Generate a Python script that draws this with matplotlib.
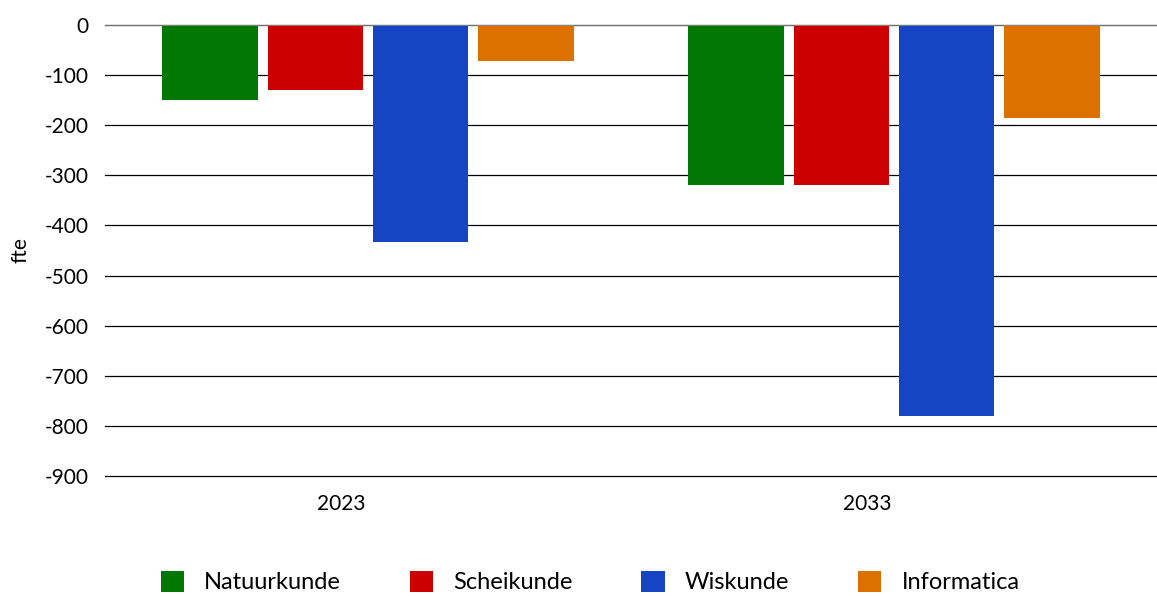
import numpy as np
import matplotlib.pyplot as plt
from matplotlib.patches import Patch

plt.rcParams['font.family'] = ['Lato', 'DejaVu Sans']
plt.rcParams['axes.unicode_minus'] = False

years = ['2023', '2033']
series = ['Natuurkunde', 'Scheikunde', 'Wiskunde', 'Informatica']
natuurkunde = [-150, -320]
scheikunde = [-130, -320]
wiskunde = [-433, -780]
informatica = [-72, -186]
colors = ['#037703', '#CC0000', '#1545C3', '#DD7100']

values = [natuurkunde, scheikunde, wiskunde, informatica]

fig = plt.figure(figsize=(11.57, 5.96), dpi=100)
ax = fig.add_axes([105 / 1157, 1 - 476 / 596, 1 - 105 / 1157, 451 / 596])

x = np.arange(len(years))
width = 0.182
step = 0.2
for i, (vals, col) in enumerate(zip(values, colors)):
    ax.bar(x + (i - 1.5) * step, vals, width, color=col, zorder=3, label=series[i])

ax.set_xlim(-0.5, 1.5)
ax.set_ylim(-900, 0)
ax.set_yticks(np.arange(-900, 1, 100))
ax.yaxis.grid(True, color='black', linewidth=0.9, zorder=0)
for gl in ax.get_ygridlines():
    gl.set_clip_on(False)
ax.axhline(0, color='#888888', linewidth=1.2, zorder=4)
# category labels sit a little left of the group centre in the original
ax.set_xticks(x - 0.05)
ax.set_xticklabels(years)
ax.tick_params(axis='both', length=0, labelsize=15)
ax.tick_params(axis='x', pad=13)
ax.tick_params(axis='y', pad=12)
for s in ax.spines.values():
    s.set_visible(False)
ax.set_ylabel('fte', fontsize=15, labelpad=10)

handles = [Patch(facecolor=c, label=s) for s, c in zip(series, colors)]
fig.legend(handles=handles, loc='center', bbox_to_anchor=(0.51, 1 - 582 / 596),
           ncol=4, frameon=False, fontsize=17, handlelength=1.0, handleheight=1.0,
           handletextpad=0.85, columnspacing=2.9)

fig.savefig('out.png', dpi=100)
